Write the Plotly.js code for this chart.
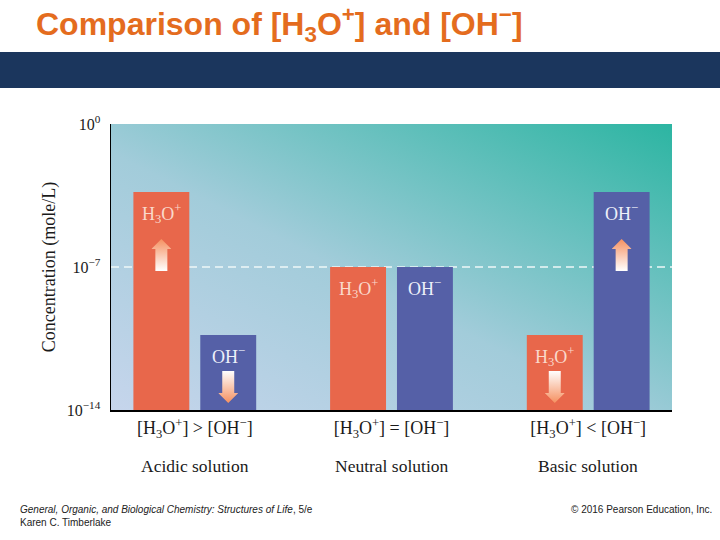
<!DOCTYPE html>
<html>
<head>
<meta charset="utf-8">
<script src="https://cdn.plot.ly/plotly-3.0.1.min.js"></script>
<style>html,body{margin:0;padding:0;background:#fff;}#chart{width:720px;height:540px;}</style>
</head>
<body>
<div id="chart"></div>
<script>
// ---- data ----
var categories = ["Acidic", "Neutral", "Basic"];
var relationLabels = ["[H<sub>3</sub>O<sup>+</sup>] > [OH<sup>−</sup>]", "[H<sub>3</sub>O<sup>+</sup>] = [OH<sup>−</sup>]", "[H<sub>3</sub>O<sup>+</sup>] < [OH<sup>−</sup>]"];
var solutionLabels = ["Acidic solution", "Neutral solution", "Basic solution"];
var h3oConc = [4.7e-4, 1e-7, 4.7e-11];   // mole/L
var ohConc  = [4.7e-11, 1e-7, 4.7e-4];   // mole/L
var h3oTrend = ["up", "none", "down"];
var ohTrend  = ["down", "none", "up"];
var yTickVals = [1, 1e-7, 1e-14];
var yTickText = ["10<sup>0</sup>", "10<sup>−7</sup>", "10<sup>−14</sup>"];
var neutralLevel = 1e-7;

// ---- layout geometry ----
var W = 720, H = 540;
var M = {l: 111, r: 48, t: 124, b: 130};
var plotW = W - M.l - M.r, plotH = H - M.t - M.b;
var xRange = [-0.426, 2.426];
var yRangeLog = [-14, 0];
var bargap = 0.32, bargroupgap = 0.164;
var slot = (1 - bargap) / 2;
var barOffset = slot / 2;
var pxPerX = plotW / (xRange[1] - xRange[0]);
var pxPerDec = plotH / (yRangeLog[1] - yRangeLog[0]);
function pxX(px){ return (px - M.l) / plotW; }
function pxY(py){ return (M.t + plotH - py) / plotH; }

var serif = "Liberation Serif, Times New Roman, serif";
var sans = "Liberation Sans, Arial, sans-serif";
var red = "#E8674B", blue = "#5560A7";

function arrowSvg(dir){
  var g = dir === "up"
    ? '<stop offset="0" stop-color="#F59060"/><stop offset="1" stop-color="#FFFFFF"/>'
    : '<stop offset="0" stop-color="#FFFFFF"/><stop offset="1" stop-color="#F59060"/>';
  var p = dir === "up"
    ? "M10,0 L20,10 L16,10 L16,32 L4,32 L4,10 L0,10 Z"
    : "M4,0 L16,0 L16,22 L20,22 L10,32 L0,22 L4,22 Z";
  var s = '<svg xmlns="http://www.w3.org/2000/svg" width="20" height="32" viewBox="0 0 20 32" preserveAspectRatio="none">' +
    '<defs><linearGradient id="g" x1="0" y1="0" x2="0" y2="1">' + g + '</linearGradient></defs>' +
    '<path d="' + p + '" fill="url(#g)"/></svg>';
  return "data:image/svg+xml;charset=utf-8," + encodeURIComponent(s);
}
var bgSvg = '<svg xmlns="http://www.w3.org/2000/svg" width="100" height="100" viewBox="0 0 100 100" preserveAspectRatio="none">' +
  '<defs><linearGradient id="b" x1="0" y1="1" x2="1" y2="0">' +
  '<stop offset="0" stop-color="#C6D5EC"/><stop offset="0.45" stop-color="#A2CCDA"/><stop offset="1" stop-color="#2CB5A2"/>' +
  '</linearGradient></defs><rect width="100" height="100" fill="url(#b)"/></svg>';

var traces = [
  {type: "bar", name: "H3O+", x: categories, y: h3oConc, marker: {color: red}, hoverinfo: "skip"},
  {type: "bar", name: "OH-", x: categories, y: ohConc, marker: {color: blue}, hoverinfo: "skip"}
];

var images = [{source: "data:image/svg+xml;charset=utf-8," + encodeURIComponent(bgSvg),
  xref: "paper", yref: "paper", x: 0, y: 1, sizex: 1, sizey: 1, xanchor: "left", yanchor: "top",
  sizing: "stretch", layer: "below"}];

var annotations = [];
function addBarDecor(conc, trend, side, label, color){
  for (var i = 0; i < categories.length; i++){
    var yl = Math.log10(conc[i]);
    var xc = i + side * barOffset;
    annotations.push({xref: "x", yref: "y", x: xc, y: yl, text: label, showarrow: false,
      yanchor: "top", yshift: -7, font: {family: serif, size: 18, color: color}});
    if (trend[i] !== "none"){
      var topPx = trend[i] === "up" ? 47 : 36;
      images.push({source: arrowSvg(trend[i]), xref: "x", yref: "y",
        x: xc, y: yl - topPx / pxPerDec, sizex: 20 / pxPerX, sizey: 32 / pxPerDec,
        xanchor: "center", yanchor: "top", sizing: "stretch", layer: "above"});
    }
  }
}
addBarDecor(h3oConc, h3oTrend, -1, "H<sub>3</sub>O<sup>+</sup>", "#FAD9CC");
addBarDecor(ohConc, ohTrend, 1, "OH<sup>−</sup>", "#EEF0FA");

for (var i = 0; i < categories.length; i++){
  annotations.push({xref: "x", yref: "paper", x: i, y: pxY(466), text: solutionLabels[i], showarrow: false,
    yanchor: "middle", font: {family: serif, size: 17.5, color: "#1a1a1a"}});
}
annotations.push({xref: "paper", yref: "paper", x: pxX(18), y: pxY(502), xanchor: "left", yanchor: "top", align: "left",
  text: "<i>General, Organic, and Biological Chemistry: Structures of Life</i>, 5/e<br>Karen C. Timberlake",
  showarrow: false, font: {family: sans, size: 10, color: "#222"}});
annotations.push({xref: "paper", yref: "paper", x: pxX(714), y: pxY(509), xanchor: "right", yanchor: "middle",
  text: "© 2016 Pearson Education, Inc.", showarrow: false, font: {family: sans, size: 10, color: "#222"}});

var layout = {
  width: W, height: H, margin: M,
  paper_bgcolor: "#ffffff", plot_bgcolor: "rgba(0,0,0,0)",
  showlegend: false, barmode: "group", bargap: bargap, bargroupgap: bargroupgap,
  title: {text: "Comparison of [H<sub>3</sub>O<sup>+</sup>] and [OH<sup>−</sup>]", xref: "container", yref: "container",
    x: 36 / W, xanchor: "left", y: 1 - 24 / H, yanchor: "middle",
    font: {family: sans, size: 32, color: "#E46C1E", weight: "bold"}},
  xaxis: {type: "category", range: xRange, showgrid: false, zeroline: false, showline: true, linecolor: "#000", linewidth: 1.5,
    ticks: "", tickvals: categories, ticktext: relationLabels, ticklabelstandoff: 1,
    tickfont: {family: serif, size: 18, color: "#1a1a1a"}, fixedrange: true},
  yaxis: {type: "log", range: yRangeLog, showgrid: false, zeroline: false, showline: true, linecolor: "#000", linewidth: 1.5,
    ticks: "", tickvals: yTickVals, ticktext: yTickText, ticklabelstandoff: 6,
    tickfont: {family: serif, size: 16, color: "#1a1a1a"},
    title: {text: "Concentration (mole/L)", font: {family: serif, size: 18, color: "#1a1a1a"}, standoff: 6}},
  shapes: [
    {type: "rect", xref: "paper", yref: "paper", x0: -1, x1: 2, y0: pxY(88), y1: pxY(52), fillcolor: "#1B365D", line: {width: 0}, layer: "above"},
    {type: "line", xref: "paper", yref: "y", x0: 0, x1: 1, y0: neutralLevel, y1: neutralLevel,
      line: {color: "#EEF7F8", width: 1.5, dash: "8px,5px"}, layer: "below"}
  ],
  images: images,
  annotations: annotations
};
Plotly.newPlot("chart", traces, layout, {displayModeBar: false, staticPlot: true});
</script>
</body>
</html>
